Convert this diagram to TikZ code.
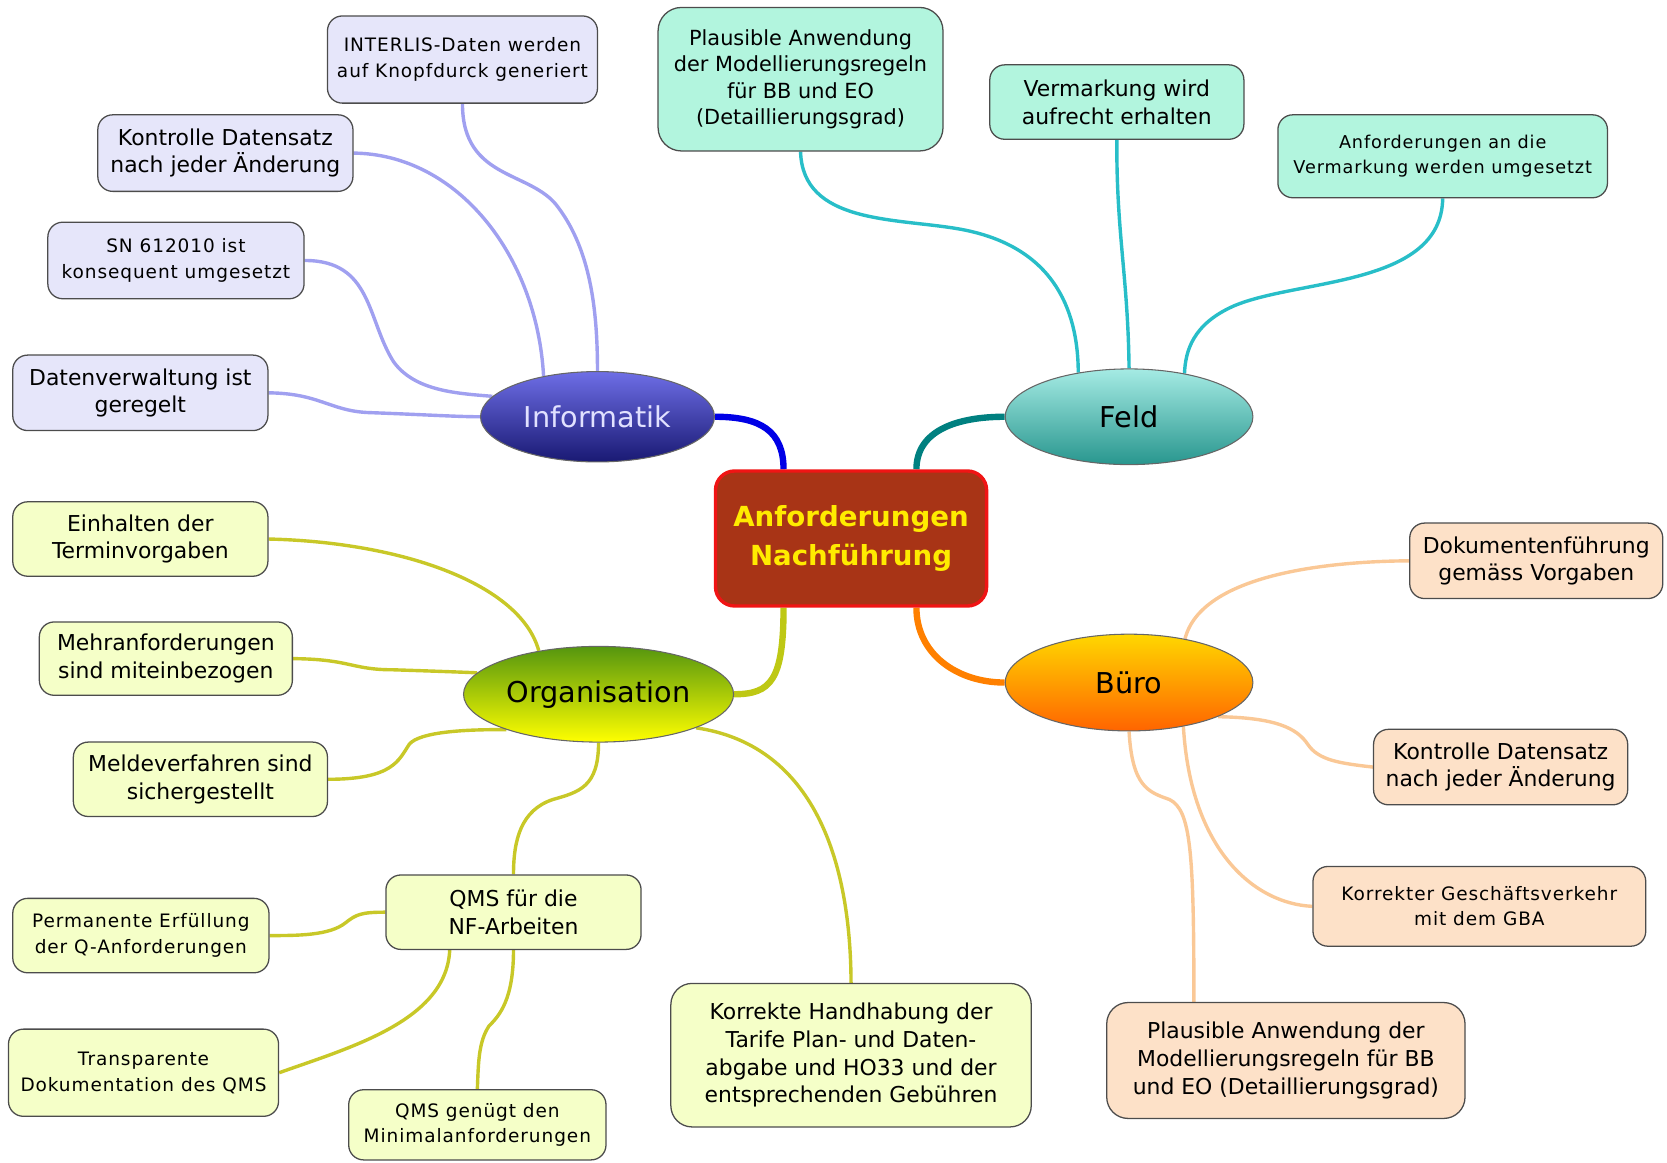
\documentclass[tikz,border=0pt]{standalone}
\usepackage{fontspec}
\setmainfont{DejaVu Sans}
\newfontfamily\smfam[LetterSpace=5]{DejaVu Sans}
\usetikzlibrary{shapes.geometric,backgrounds}
\definecolor{ifill}{RGB}{230,230,250}
\definecolor{iline}{RGB}{160,160,240}
\definecolor{ffill}{RGB}{178,245,222}
\definecolor{fline}{RGB}{40,190,200}
\definecolor{ofill}{RGB}{245,255,200}
\definecolor{oline}{RGB}{200,200,40}
\definecolor{bfill}{RGB}{253,225,200}
\definecolor{bline}{RGB}{250,200,150}
\definecolor{cfill}{RGB}{168,52,22}
\definecolor{cborder}{RGB}{240,20,20}
\definecolor{ctext}{RGB}{255,235,0}
\newcommand{\txtbig}{\fontsize{10.3}{13}\selectfont}
\newcommand{\txtsm}{\smfam\fontsize{8.7}{12}\selectfont}
\begin{document}
\begin{tikzpicture}[x=0.5pt,y=-0.5pt,
  box/.style={draw=black!70, line width=0.6pt, rounded corners=7pt, align=center, inner sep=2pt, font=\txtbig},
  smtext/.style={font=\txtsm},
  ibox/.style={box, fill=ifill},
  fbox/.style={box, fill=ffill},
  obox/.style={box, fill=ofill},
  bbox/.style={box, fill=bfill},
  ilink/.style={draw=iline, line width=1.6pt},
  flink/.style={draw=fline, line width=1.6pt},
  olink/.style={draw=oline, line width=1.6pt},
  blink/.style={draw=bline, line width=1.6pt},
  mainlink/.style={line width=3pt},
  elli/.style={ellipse, draw=black!60, line width=0.5pt, inner sep=0pt, font=\fontsize{13.5}{16}\selectfont}
]
\path[use as bounding box] (0,0) rectangle (1568,1093);

% central
\node[draw=cborder, line width=1.6pt, fill=cfill, rounded corners=9pt, minimum width=127.5pt, minimum height=63.5pt, text=ctext, align=center, font=\bfseries\fontsize{13}{18}\selectfont] (c) at (800.5,506.5) {Anforderungen\\Nachführung};

% main ellipses
\node[elli, minimum width=110pt, minimum height=42.5pt, top color={rgb,255:red,110;green,110;blue,230}, bottom color={rgb,255:red,25;green,25;blue,115}, text={rgb,255:red,225;green,225;blue,255}] (inf) at (562,392) {Informatik};
\node[elli, minimum width=116.5pt, minimum height=45pt, top color={rgb,255:red,165;green,235;blue,228}, bottom color={rgb,255:red,40;green,150;blue,142}] (feld) at (1062,392) {Feld};
\node[elli, minimum width=127pt, minimum height=45pt, top color={rgb,255:red,85;green,150;blue,15}, bottom color={rgb,255:red,255;green,255;blue,0}] (org) at (563,653) {Organisation};
\node[elli, minimum width=116.5pt, minimum height=45.5pt, top color={rgb,255:red,255;green,215;blue,0}, bottom color={rgb,255:red,255;green,100;blue,0}] (buero) at (1062,642) {Büro};

% Informatik children
\node[ibox, smtext, minimum width=127pt, minimum height=41pt] (i1) at (435,56) {INTERLIS-Daten werden\\auf Knopfdurck generiert};
\node[ibox, minimum width=120pt, minimum height=36pt] (i2) at (212,144) {Kontrolle Datensatz\\nach jeder Änderung};
\node[ibox, smtext, minimum width=120.5pt, minimum height=36pt] (i3) at (165.5,245) {SN 612010 ist\\konsequent umgesetzt};
\node[ibox, minimum width=120pt, minimum height=35.5pt] (i4) at (132,369.5) {Datenverwaltung ist\\geregelt};

% Feld children
\node[fbox, font=\fontsize{9.8}{12.3}\selectfont, minimum width=134pt, minimum height=67.5pt, rounded corners=11pt] (f1) at (753,74.5) {Plausible Anwendung\\der Modellierungsregeln\\für BB und EO\\(Detaillierungsgrad)};
\node[fbox, minimum width=119.5pt, minimum height=35pt] (f2) at (1050.5,96) {Vermarkung wird\\aufrecht erhalten};
\node[fbox, font=\smfam\fontsize{8.3}{12}\selectfont, minimum width=155pt, minimum height=39pt] (f3) at (1357,147) {Anforderungen an die\\Vermarkung werden umgesetzt};

% Organisation children
\node[obox, minimum width=120pt, minimum height=35pt] (o1) at (132,507) {Einhalten der\\Terminvorgaben};
\node[obox, minimum width=119pt, minimum height=34.5pt] (o2) at (156,619.5) {Mehranforderungen\\sind miteinbezogen};
\node[obox, minimum width=119.5pt, minimum height=35pt] (o3) at (188.5,733) {Meldeverfahren sind\\sichergestellt};
\node[obox, minimum width=120pt, minimum height=35pt] (o4) at (483,858) {QMS für die\\NF-Arbeiten};
\node[obox, minimum width=169.5pt, minimum height=67.5pt, rounded corners=10pt] (o5) at (800.5,992.5) {Korrekte Handhabung der\\Tarife Plan- und Daten-\\abgabe und HO33 und der\\entsprechenden Gebühren};
\node[obox, smtext, minimum width=120.5pt, minimum height=35pt] (q1) at (132.5,880) {Permanente Erfüllung\\der Q-Anforderungen};
\node[obox, smtext, minimum width=127pt, minimum height=41pt] (q2) at (135,1009) {Transparente\\Dokumentation des QMS};
\node[obox, smtext, minimum width=121pt, minimum height=33pt] (q3) at (449,1058) {QMS genügt den\\Minimalanforderungen};

% Buero children
\node[bbox, minimum width=119pt, minimum height=35.5pt] (b1) at (1445,527.5) {Dokumentenführung\\gemäss Vorgaben};
\node[bbox, minimum width=119.5pt, minimum height=35.5pt] (b2) at (1411.5,721.5) {Kontrolle Datensatz\\nach jeder Änderung};
\node[bbox, smtext, minimum width=156.5pt, minimum height=37.5pt] (b3) at (1391.5,852.5) {Korrekter Geschäftsverkehr\\mit dem GBA};
\node[bbox, minimum width=168.5pt, minimum height=54.5pt, rounded corners=10pt] (b4) at (1209.5,997.5) {Plausible Anwendung der\\Modellierungsregeln für BB\\und EO (Detaillierungsgrad)};

\begin{scope}[on background layer]
% main connectors
\draw[mainlink, draw={rgb,255:red,0;green,0;blue,230}] ([xshift=-31.75pt]c.north) .. controls (737,405) and (715,392) .. (inf.east);
\draw[mainlink, draw={rgb,255:red,0;green,128;blue,128}] ([xshift=30.75pt]c.north) .. controls (862,405) and (900,392) .. (feld.west);
\draw[mainlink, draw={rgb,255:red,190;green,200;blue,20}] ([xshift=-31.75pt]c.south) .. controls (737,640) and (725,653) .. (org.east);
\draw[mainlink, draw={rgb,255:red,255;green,128;blue,0}] ([xshift=30.75pt]c.south) .. controls (862,615) and (900,642) .. (buero.west);

% Informatik links
\draw[ilink] (i1.south) .. controls (435,170) and (500,160) .. (525,195) .. controls (555,235) and (562,290) .. (inf.north);
\draw[ilink] (i2.east) .. controls (430,145) and (505,240) .. (inf.143);
\draw[ilink] (i3.east) .. controls (350,245) and (345,300) .. (370,340) .. controls (390,368) and (430,370) .. (inf.169);
\draw[ilink] (i4.east) .. controls (300,370) and (310,386) .. (345,388) .. controls (400,390) and (430,392) .. (inf.west);

% Feld links
\draw[flink] (f1.south) .. controls (755,210) and (840,205) .. (900,215) .. controls (990,230) and (1014,290) .. (feld.139);
\draw[flink] (f2.south) .. controls (1050,220) and (1061,260) .. (feld.north);
\draw[flink] (f3.south) .. controls (1356,270) and (1220,262) .. (1160,288) .. controls (1122,305) and (1115,330) .. (feld.38);

% Organisation links
\draw[olink] (o1.east) .. controls (380,510) and (490,550) .. (org.144);
\draw[olink] (o2.east) .. controls (330,620) and (330,630) .. (370,630) .. controls (400,631) and (430,632) .. (org.170);
\draw[olink] (o3.east) .. controls (370,733) and (375,715) .. (385,700) .. controls (395,688) and (440,686) .. (org.201);
\draw[olink] (org.south) .. controls (563,740) and (545,745) .. (520,752) .. controls (490,762) and (483,790) .. (o4.north);
\draw[olink] (org.341) .. controls (760,700) and (800,800) .. (o5.north);
\draw[olink] (o4.west) .. controls (340,858) and (335,860) .. (325,868) .. controls (310,880) and (280,880) .. (q1.east);
\draw[olink] ([xshift=-30pt]o4.south) .. controls (420,960) and (330,985) .. (q2.east);
\draw[olink] (o4.south) .. controls (483,940) and (470,955) .. (460,965) .. controls (450,980) and (450,1000) .. (q3.north);

% Buero links
\draw[blink] (buero.38) .. controls (1130,540) and (1250,528) .. (b1.west);
\draw[blink] (buero.339) .. controls (1200,675) and (1220,685) .. (1230,700) .. controls (1240,715) and (1260,718) .. (b2.west);
\draw[blink] (buero.321) .. controls (1120,800) and (1180,850) .. (b3.west);
\draw[blink] (buero.south) .. controls (1065,740) and (1080,745) .. (1100,752) .. controls (1120,762) and (1123,800) .. ([xshift=-43.25pt]b4.north);
\end{scope}
\end{tikzpicture}
\end{document}
